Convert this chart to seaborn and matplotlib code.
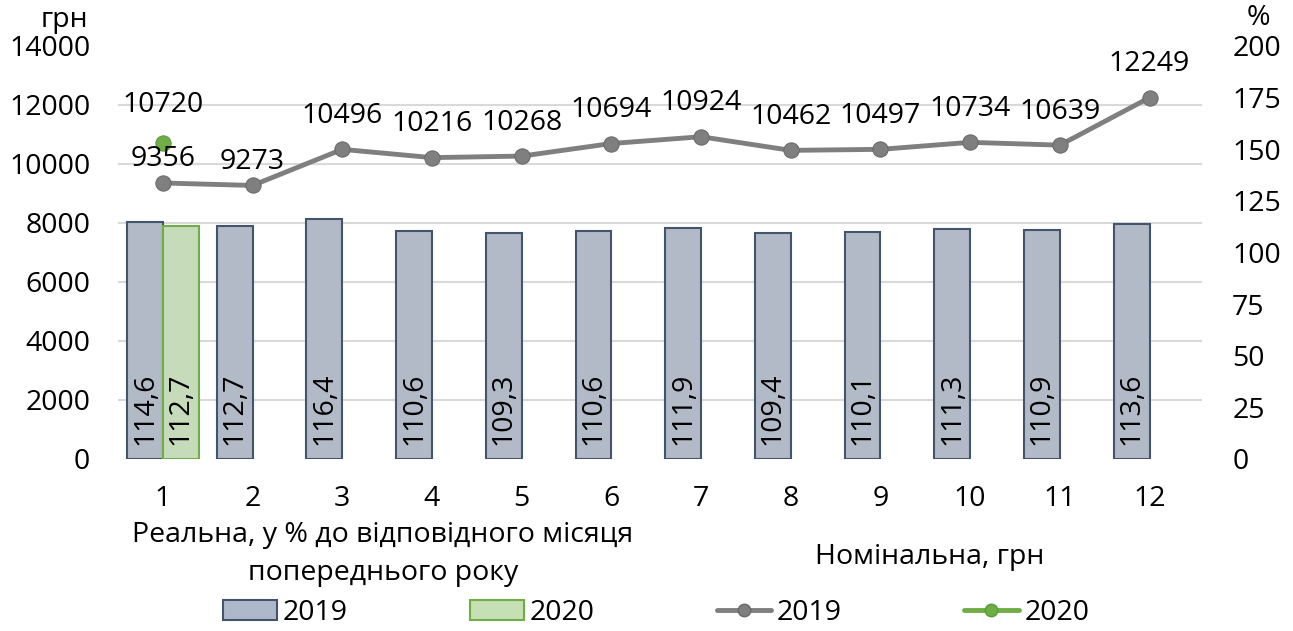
import numpy as np
import pandas as pd
import matplotlib.pyplot as plt
import seaborn as sns
from matplotlib.patches import Patch
from matplotlib.lines import Line2D

# data
months = [str(m) for m in range(1, 13)]
real_2019 = [114.6, 112.7, 116.4, 110.6, 109.3, 110.6, 111.9, 109.4, 110.1, 111.3, 110.9, 113.6]
real_2020 = [112.7]
nominal_2019 = [9356, 9273, 10496, 10216, 10268, 10694, 10924, 10462, 10497, 10734, 10639, 12249]
nominal_2020 = [10720]
uah_ticks = [0, 2000, 4000, 6000, 8000, 10000, 12000, 14000]
pct_ticks = [0, 25, 50, 75, 100, 125, 150, 175, 200]

sns.set_theme(style='white')
plt.rcParams['font.family'] = ['Open Sans', 'DejaVu Sans']
plt.rcParams['text.color'] = 'black'
plt.rcParams['xtick.color'] = 'black'
plt.rcParams['ytick.color'] = 'black'
FS = 20.5

bars = pd.DataFrame({
    'month': months + months[:1],
    'year': ['2019'] * len(real_2019) + ['2020'] * len(real_2020),
    'value': real_2019 + real_2020,
})

fig = plt.figure(figsize=(12.93, 6.31), dpi=100)
ax = fig.add_axes([0.0913, 0.2726, 0.838, 0.6545])

# real wage bars (% axis, right side)
sns.barplot(data=bars, x='month', y='value', hue='year', order=months,
            palette={'2019': '#ADB9CA', '2020': '#C5E0B4'}, width=0.8,
            linewidth=1.5, ax=ax, legend=False)
edge = ['#44546A', '#70AD47']
for cont, ec in zip(ax.containers, edge):
    for b in cont:
        b.set_edgecolor(ec)
        h = b.get_height()
        ax.text(b.get_x() + b.get_width() / 2, 7, f"{h:.1f}".replace('.', ','),
                rotation=90, ha='center', va='bottom', fontsize=FS, color='black')

# nominal wage lines (UAH axis, left side)
ax2 = ax.twinx()
x = np.arange(len(months))
sns.lineplot(x=x, y=nominal_2019, color='#7F7F7F', lw=3.5, marker='o', ms=11,
             mfc='#7F7F7F', mec='#6A6A6A', ax=ax2)
sns.lineplot(x=x[:len(nominal_2020)], y=nominal_2020, color='#70AD47', lw=3.5,
             marker='o', ms=11, mfc='#70AD47', mec='#5A9A38', ax=ax2)

offs = [17] * 2 + [24] * 10
for i, v in enumerate(nominal_2019):
    ax2.annotate(str(v), (i, v), xytext=(0, offs[i]), textcoords='offset points',
                 ha='center', va='center', fontsize=FS, color='black')
for i, v in enumerate(nominal_2020):
    ax2.annotate(str(v), (i, v), xytext=(0, 27), textcoords='offset points',
                 ha='center', va='center', fontsize=FS, color='black')

ax.yaxis.tick_right()
ax2.yaxis.tick_left()
ax.set_ylim(0, 200)
ax.set_yticks(pct_ticks)
ax2.set_ylim(0, 14000)
ax2.set_yticks(uah_ticks)
ax.set_xlim(-0.5, 11.58)

# grid follows the UAH axis but sits behind the bars
ax.set_yticks([t * 200 / 14000 for t in uah_ticks], minor=True)
ax.grid(which='minor', axis='y', color='#D9D9D9', lw=1.5)
ax.grid(which='major', visible=False)
ax.set_axisbelow(True)

ax.tick_params(axis='y', which='major', length=0, pad=22, labelsize=FS)
ax.tick_params(axis='y', which='minor', length=0)
ax.tick_params(axis='x', length=0, pad=19, labelsize=FS)
ax2.tick_params(axis='y', length=0, pad=20, labelsize=FS)
for a in (ax, ax2):
    a.set_xlabel('')
    a.set_ylabel('')
    for s in a.spines.values():
        s.set_visible(False)

fig.text(88 / 1293, 1 - 20 / 631, 'грн', ha='right', va='center', fontsize=FS)
fig.text(1258 / 1293, 1 - 18 / 631, '%', ha='center', va='center', fontsize=FS)
fig.text(383 / 1293, 1 - 535 / 631, 'Реальна, у % до відповідного місяця',
         ha='center', va='center', fontsize=FS)
fig.text(383 / 1293, 1 - 573 / 631, 'попереднього року',
         ha='center', va='center', fontsize=FS)
fig.text(930 / 1293, 1 - 557 / 631, 'Номінальна, грн',
         ha='center', va='center', fontsize=FS)

handles = [
    Patch(facecolor='#ADB9CA', edgecolor='#44546A', lw=1.5),
    Patch(facecolor='#C5E0B4', edgecolor='#70AD47', lw=1.5),
    Line2D([], [], color='#7F7F7F', lw=3.5, marker='o', ms=9, mfc='#7F7F7F', mec='#6A6A6A'),
    Line2D([], [], color='#70AD47', lw=3.5, marker='o', ms=9, mfc='#70AD47', mec='#5A9A38'),
]
fig.legend(handles, ['2019', '2020', '2019', '2020'], ncol=4, loc='center',
           bbox_to_anchor=(656 / 1293, 1 - 613 / 631), frameon=False,
           handlelength=1.9, handletextpad=0.2, columnspacing=4.3, fontsize=FS)

fig.savefig('out.png', dpi=100)
